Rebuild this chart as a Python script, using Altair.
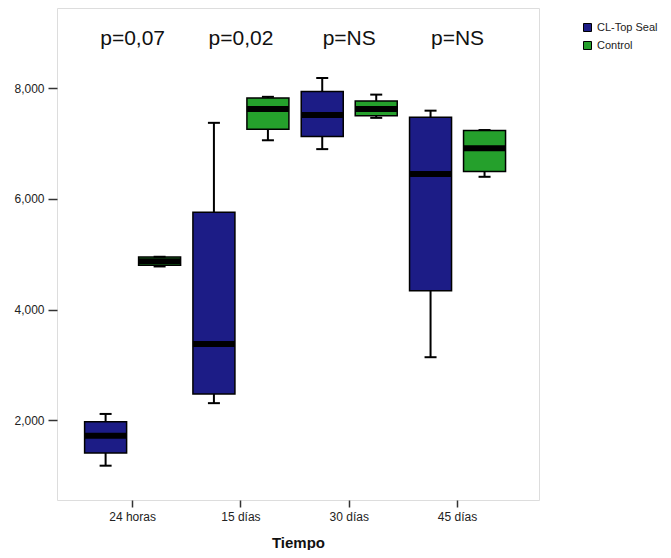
import altair as alt
import pandas as pd

tiempos = ["24 horas", "15 días", "30 días", "45 días"]
grupos = ["CL-Top Seal", "Control"]
p_labels = ["p=0,07", "p=0,02", "p=NS", "p=NS"]

# CL-Top Seal
cl_min = [1180, 2310, 6900, 3140]
cl_q1 = [1410, 2475, 7130, 4340]
cl_med = [1720, 3380, 7515, 6450]
cl_q3 = [1975, 5760, 7940, 7475]
cl_max = [2115, 7375, 8185, 7595]

# Control
co_min = [4780, 7060, 7465, 6400]
co_q1 = [4800, 7260, 7505, 6495]
co_med = [4875, 7625, 7625, 6915]
co_q3 = [4950, 7825, 7770, 7235]
co_max = [4955, 7845, 7885, 7245]

rows = []
for g, mn, q1, md, q3, mx in [
    ("CL-Top Seal", cl_min, cl_q1, cl_med, cl_q3, cl_max),
    ("Control", co_min, co_q1, co_med, co_q3, co_max),
]:
    for i, t in enumerate(tiempos):
        rows.append(dict(Tiempo=t, Grupo=g, vmin=mn[i], q1=q1[i], med=md[i], q3=q3[i], vmax=mx[i]))
df = pd.DataFrame(rows)
pdf = pd.DataFrame({"Tiempo": tiempos, "p": p_labels})

FONT = "Liberation Sans"
BLUE = "#1c1c86"
GREEN = "#25a02c"

xenc = alt.X(
    "Tiempo:N",
    sort=tiempos,
    scale=alt.Scale(paddingInner=0, paddingOuter=0.225, align=0.44),
    axis=alt.Axis(
        title="Tiempo", labelAngle=0, domain=False, tickSize=7, tickWidth=1.5,
        tickColor="#333", labelFontSize=12, labelColor="#222", labelPadding=4,
        labelFont=FONT, titleFont=FONT, titleFontSize=15, titleFontWeight="bold",
        titleColor="#111", titlePadding=13,
    ),
)
xoff = alt.XOffset("Grupo:N", sort=grupos,
                   scale=alt.Scale(paddingInner=0.222, paddingOuter=0.114))
yscale = alt.Scale(domain=[560, 9450], nice=False, zero=False)
yaxis = alt.Axis(values=[2000, 4000, 6000, 8000], format=",.0f", domain=False, grid=False,
                 tickSize=9, tickWidth=1.5, tickColor="#333", labelFontSize=12,
                 labelColor="#222", labelPadding=4, labelFont=FONT)

base = alt.Chart(df)

whisk = base.mark_rule(color="black", strokeWidth=2).encode(
    x=xenc, xOffset=xoff,
    y=alt.Y("vmin:Q", scale=yscale, axis=yaxis, title=""),
    y2="vmax:Q",
)
box = base.mark_bar(stroke="black", strokeWidth=1.5).encode(
    x=xenc, xOffset=xoff,
    y=alt.Y("q1:Q", scale=yscale, axis=yaxis, title=""),
    y2="q3:Q",
    color=alt.Color(
        "Grupo:N", sort=grupos,
        scale=alt.Scale(domain=grupos, range=[BLUE, GREEN]),
        legend=alt.Legend(
            title=None, orient="none", legendX=525, legendY=14,
            symbolType="square", symbolSize=64, symbolStrokeColor="black",
            symbolStrokeWidth=1, symbolOpacity=1, labelFontSize=11, labelFont=FONT,
            labelColor="#222", labelOffset=4, rowPadding=5, padding=0,
        ),
    ),
)
med = base.mark_tick(color="black", thickness=6, size=42, opacity=1).encode(
    x=xenc, xOffset=xoff,
    y=alt.Y("med:Q", scale=yscale, axis=yaxis, title=""),
)
cap_lo = base.mark_tick(color="black", thickness=2, size=12, opacity=1).encode(
    x=xenc, xOffset=xoff,
    y=alt.Y("vmin:Q", scale=yscale, axis=yaxis, title=""),
)
cap_hi = base.mark_tick(color="black", thickness=2, size=12, opacity=1).encode(
    x=xenc, xOffset=xoff,
    y=alt.Y("vmax:Q", scale=yscale, axis=yaxis, title=""),
)
ptext = alt.Chart(pdf).mark_text(
    font=FONT, fontSize=21, color="#111", baseline="alphabetic", align="center"
).encode(
    x=xenc,
    y=alt.value(37),
    text="p:N",
)

chart = alt.layer(whisk, box, med, cap_lo, cap_hi, ptext).properties(
    width=482, height=492,
    padding={"left": 49, "top": 0, "right": 124, "bottom": 50},
    autosize=alt.AutoSizeParams(type="none"),
).configure_view(
    fill="#eaede5", stroke="#444", strokeWidth=1.5
).configure(background="white")

chart.save("out.html", embed_options={"renderer": "svg", "actions": False})
